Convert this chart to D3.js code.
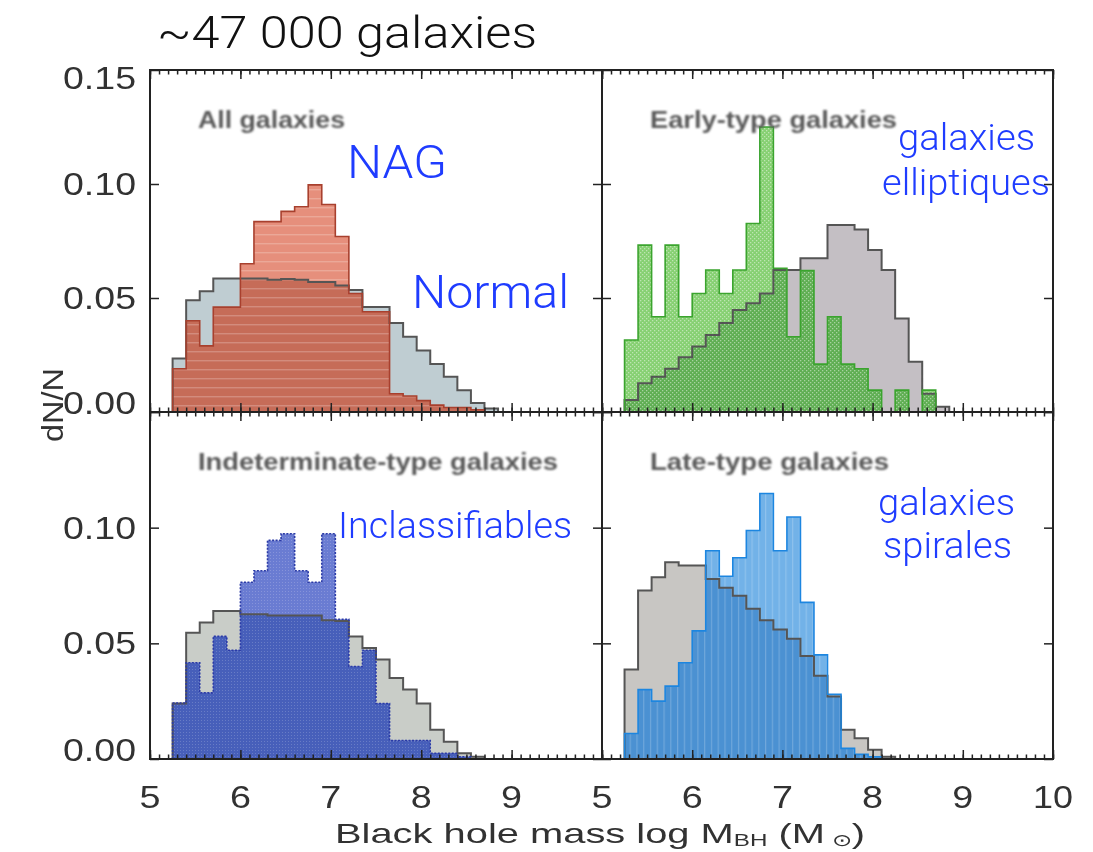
<!DOCTYPE html>
<html>
<head>
<meta charset="utf-8">
<script src="https://cdn.jsdelivr.net/npm/d3@7"></script>
<style>
  body { margin: 0; background: #fff; }
  svg { display: block; }
</style>
</head>
<body>
<svg id="chart" width="1093" height="852"></svg>
<script>
// Histogram binning in log M_BH (solar masses)
const binStart = 5.25;
const binWidth = 0.15;

// dN/N per bin, starting at binStart
const allNormal   = [0.0235, 0.049, 0.053, 0.0586, 0.0586, 0.0586, 0.0586, 0.058, 0.0583, 0.058, 0.057, 0.057, 0.0555, 0.0535, 0.046, 0.046, 0.039, 0.033, 0.027, 0.021, 0.0155, 0.0095, 0.004, 0.0015];
const allAGN      = [0.019, 0.040, 0.029, 0.046, 0.046, 0.065, 0.0835, 0.0835, 0.088, 0.090, 0.0996, 0.091, 0.077, 0.052, 0.044, 0.044, 0.008, 0.007, 0.005, 0.003, 0.002, 0.002, 0.001, 0];
const earlyNormal = [0.0053, 0.0126, 0.0155, 0.019, 0.024, 0.0287, 0.0338, 0.039, 0.0447, 0.0477, 0.052, 0.0623, 0.0623, 0.0674, 0.0674, 0.082, 0.082, 0.080, 0.071, 0.0623, 0.041, 0.022, 0.008, 0.0023];
const earlyAGN    = [0.0316, 0.0732, 0.0418, 0.0732, 0.0418, 0.052, 0.0623, 0.052, 0.0623, 0.0827, 0.125, 0.063, 0.033, 0.062, 0.021, 0.0418, 0.021, 0.019, 0.0096, 0, 0.0096, 0, 0.0096, 0];
const indetNormal = [0.024, 0.0546, 0.059, 0.064, 0.064, 0.0626, 0.0626, 0.062, 0.062, 0.062, 0.062, 0.060, 0.0597, 0.053, 0.048, 0.043, 0.035, 0.030, 0.024, 0.0126, 0.0075, 0.0025, 0.001, 0];
const indetAGN    = [0.0242, 0.0416, 0.0286, 0.053, 0.047, 0.0764, 0.0814, 0.0945, 0.0974, 0.0814, 0.0764, 0.0974, 0.0604, 0.040, 0.047, 0.024, 0.008, 0.008, 0.008, 0.0025, 0.0025, 0.001, 0, 0];
const lateNormal  = [0.0387, 0.0728, 0.0786, 0.085, 0.0836, 0.0836, 0.0778, 0.074, 0.0706, 0.065, 0.060, 0.056, 0.052, 0.0445, 0.036, 0.027, 0.0126, 0.009, 0.004, 0.001, 0, 0, 0, 0];
const lateAGN     = [0.011, 0.030, 0.025, 0.0315, 0.0416, 0.0554, 0.090, 0.079, 0.087, 0.0988, 0.1148, 0.090, 0.1046, 0.0677, 0.045, 0.028, 0.0046, 0.002, 0.001, 0, 0, 0, 0, 0];

// Axis ticks and labels
const xTicksLeft   = [5, 6, 7, 8, 9];
const xTicksRight  = [5, 6, 7, 8, 9, 10];
const yTicksTop    = [0.15, 0.10, 0.05, 0.00];
const yTicksBottom = [0.10, 0.05, 0.00];
const panelTitles  = ["All galaxies", "Early-type galaxies", "Indeterminate-type galaxies", "Late-type galaxies"];

const svg = d3.select("#chart");

// Panel frame edges
const xL = 150, xM = 602, xR = 1053;
const yT = 70, yM = 412, yB = 759;

const defs = svg.append("defs");
defs.append("filter").attr("id", "soft")
  .append("feGaussianBlur").attr("stdDeviation", 0.7);
defs.append("filter").attr("id", "softer")
  .append("feGaussianBlur").attr("stdDeviation", 1.0);

// fill textures
const pStripe = defs.append("pattern").attr("id", "hstripe").attr("patternUnits", "userSpaceOnUse")
  .attr("width", 12).attr("height", 9);
pStripe.append("rect").attr("x", 0).attr("y", 0).attr("width", 12).attr("height", 1.4)
  .attr("fill", "#fff").attr("opacity", 0.22);

const pDots = defs.append("pattern").attr("id", "dots").attr("patternUnits", "userSpaceOnUse")
  .attr("width", 4).attr("height", 4);
pDots.append("rect").attr("x", 0).attr("y", 0).attr("width", 1.3).attr("height", 1.3).attr("fill", "#fff").attr("opacity", 0.45);
pDots.append("rect").attr("x", 2).attr("y", 2).attr("width", 1.3).attr("height", 1.3).attr("fill", "#fff").attr("opacity", 0.45);

const pFine = defs.append("pattern").attr("id", "fine").attr("patternUnits", "userSpaceOnUse")
  .attr("width", 3).attr("height", 3);
pFine.append("rect").attr("x", 0).attr("y", 0).attr("width", 1).attr("height", 1).attr("fill", "#fff").attr("opacity", 0.18);

const pV = defs.append("pattern").attr("id", "vstripe").attr("patternUnits", "userSpaceOnUse")
  .attr("width", 6.77).attr("height", 10);
pV.append("rect").attr("x", 0).attr("y", 0).attr("width", 1.2).attr("height", 10).attr("fill", "#fff").attr("opacity", 0.2);

const panels = [
  { title: panelTitles[0], normal: allNormal, agn: allAGN, x0: xL, x1: xM, y0: yT, y1: yM,
    gray: "#bfcdd2", light: "#e68f7b", dark: "#c66c58", line: "#a8402e", tex: "hstripe", ticks: xTicksLeft, yTicks: yTicksTop },
  { title: panelTitles[1], normal: earlyNormal, agn: earlyAGN, x0: xM, x1: xR, y0: yT, y1: yM,
    gray: "#c4bfc4", light: "#86d072", dark: "#5fae52", line: "#3aa42e", tex: "dots", ticks: [], yTicks: [] },
  { title: panelTitles[2], normal: indetNormal, agn: indetAGN, x0: xL, x1: xM, y0: yM, y1: yB,
    gray: "#c9cdc8", light: "#6b7bd2", dark: "#475fba", line: "#2b3aa6", tex: "fine", ticks: xTicksLeft, yTicks: yTicksBottom },
  { title: panelTitles[3], normal: lateNormal, agn: lateAGN, x0: xM, x1: xR, y0: yM, y1: yB,
    gray: "#c8c6c3", light: "#72b2e8", dark: "#4b91d2", line: "#1f86e0", tex: "vstripe", ticks: xTicksRight, yTicks: [] }
];

const chart = svg.append("g").attr("filter", "url(#soft)");

const stepPts = vals => vals.map((v, i) => [binStart + i * binWidth, v])
  .concat([[binStart + vals.length * binWidth, vals[vals.length - 1]]]);
const outlinePts = vals => [[binStart, 0]].concat(stepPts(vals), [[binStart + vals.length * binWidth, 0]]);

panels.forEach((p, idx) => {
  const x = d3.scaleLinear().domain([5, 10]).range([p.x0, p.x1]);
  const y = d3.scaleLinear().domain([0, 0.15]).range([p.y1, p.y0]);

  const clipId = "clip" + idx;
  defs.append("clipPath").attr("id", clipId)
    .append("rect").attr("x", p.x0).attr("y", p.y0).attr("width", p.x1 - p.x0).attr("height", p.y1 - p.y0);

  const g = chart.append("g").attr("clip-path", `url(#${clipId})`);
  const area = d3.area().curve(d3.curveStepAfter)
    .x(d => x(d[0])).y0(y(0)).y1(d => y(d[1]));
  const line = d3.line().curve(d3.curveStepAfter)
    .x(d => x(d[0])).y(d => y(d[1]));

  const overlap = p.normal.map((v, i) => Math.min(v, p.agn[i]));

  // inactive galaxies
  g.append("path").attr("d", area(stepPts(p.normal))).attr("fill", p.gray);
  // AGN hosts
  g.append("path").attr("d", area(stepPts(p.agn))).attr("fill", p.light);
  g.append("path").attr("d", area(stepPts(p.agn))).attr("fill", `url(#${p.tex})`);
  // shared part of both distributions
  g.append("path").attr("d", area(stepPts(overlap))).attr("fill", p.dark);
  g.append("path").attr("d", area(stepPts(overlap))).attr("fill", `url(#${p.tex})`);
  // outlines
  g.append("path").attr("d", line(outlinePts(p.normal)))
    .attr("fill", "none").attr("stroke", "#555").attr("stroke-width", 2);
  g.append("path").attr("d", line(outlinePts(p.agn)))
    .attr("fill", "none").attr("stroke", p.line).attr("stroke-width", 1.6)
    .attr("stroke-dasharray", idx === 2 ? "2,1.5" : null);

  // frame
  chart.append("rect").attr("x", p.x0).attr("y", p.y0)
    .attr("width", p.x1 - p.x0).attr("height", p.y1 - p.y0)
    .attr("fill", "none").attr("stroke", "#222").attr("stroke-width", 2);

  // tick marks on all four sides
  const minor = d3.range(50, 101).map(d => d / 10);
  const addAxis = (axis, tx, ty) => {
    const a = chart.append("g").attr("transform", `translate(${tx},${ty})`).call(axis);
    a.select(".domain").remove();
    a.selectAll("line").attr("stroke", "#222").attr("stroke-width", 1.5);
    a.selectAll("text").remove();
  };
  addAxis(d3.axisTop(x).tickValues(minor).tickSize(-4.5), 0, p.y0);
  addAxis(d3.axisBottom(x).tickValues(minor).tickSize(-4.5), 0, p.y1);
  addAxis(d3.axisTop(x).tickValues(d3.range(5, 11)).tickSize(-9), 0, p.y0);
  addAxis(d3.axisBottom(x).tickValues(d3.range(5, 11)).tickSize(-9), 0, p.y1);
  addAxis(d3.axisLeft(y).tickValues([0, 0.05, 0.10, 0.15]).tickSize(-9), p.x0, 0);
  addAxis(d3.axisRight(y).tickValues([0, 0.05, 0.10, 0.15]).tickSize(-9), p.x1, 0);

  // y tick labels (left column only)
  if (p.x0 === xL) {
    chart.append("g").selectAll("text").data(p.yTicks).join("text")
      .attr("x", 136)
      .attr("y", d => Math.max(p.y0 + 8, Math.min(p.y1 - 9, y(d))))
      .attr("dy", "0.36em")
      .attr("text-anchor", "end")
      .attr("font-family", "Liberation Sans, Arial, sans-serif")
      .attr("font-size", 31).attr("fill", "#333")
      .attr("textLength", 73).attr("lengthAdjust", "spacingAndGlyphs")
      .text(d => d3.format(".2f")(d));
  }
  // x tick labels (bottom row only)
  if (p.y1 === yB) {
    chart.append("g").selectAll("text").data(p.ticks).join("text")
      .attr("x", d => x(d)).attr("y", 808)
      .attr("text-anchor", "middle")
      .attr("font-family", "Liberation Sans, Arial, sans-serif")
      .attr("font-size", 31).attr("fill", "#333")
      .attr("textLength", d => d >= 10 ? 40 : 21).attr("lengthAdjust", "spacingAndGlyphs")
      .text(d => d);
  }

  // panel title
  chart.append("text")
    .attr("x", p.x0 + 48).attr("y", p.y0 + 58)
    .attr("font-family", "Liberation Sans, Arial, sans-serif")
    .attr("font-weight", "bold").attr("font-size", 23).attr("fill", "#5a5a5a")
    .attr("filter", "url(#softer)")
    .text(p.title);
});

// fit panel title widths
const titleWidths = [147, 247, 360, 239];
chart.selectAll("text").filter(function () { return panelTitles.includes(this.textContent); })
  .each(function () {
    const i = panelTitles.indexOf(this.textContent);
    d3.select(this).attr("textLength", titleWidths[i]).attr("lengthAdjust", "spacingAndGlyphs");
  });

// y axis title
chart.append("text")
  .attr("transform", "translate(63,405) rotate(-90)")
  .attr("text-anchor", "middle")
  .attr("font-family", "Liberation Sans, Arial, sans-serif")
  .attr("font-size", 29).attr("fill", "#333")
  .attr("textLength", 74).attr("lengthAdjust", "spacingAndGlyphs")
  .text("dN/N");

// x axis title
const xt = chart.append("text")
  .attr("x", 600).attr("y", 843)
  .attr("text-anchor", "middle")
  .attr("font-family", "Liberation Sans, Arial, sans-serif")
  .attr("font-size", 28).attr("fill", "#333")
  .attr("textLength", 530).attr("lengthAdjust", "spacingAndGlyphs");
xt.append("tspan").text("Black hole mass log M");
xt.append("tspan").attr("font-size", 17).attr("dy", 3).text("BH");
xt.append("tspan").attr("dy", -3).text(" (M");
xt.append("tspan").attr("font-size", 17).attr("dy", 3).text(" \u2299");
xt.append("tspan").attr("dy", -3).text(")");

// headline
svg.append("text")
  .attr("x", 157).attr("y", 48)
  .attr("font-family", "Roboto, 'Open Sans', sans-serif")
  .attr("font-weight", 300).attr("font-size", 44).attr("fill", "#111")
  .attr("textLength", 380).attr("lengthAdjust", "spacingAndGlyphs")
  .text("~47 000 galaxies");

// blue annotations
const notes = [
  { t: "NAG", x: 347, y: 178, s: 46, w: 100 },
  { t: "Normal", x: 412, y: 308, s: 46, w: 157 },
  { t: "galaxies", x: 898, y: 150, s: 36, w: 137 },
  { t: "elliptiques", x: 882, y: 195, s: 36, w: 168 },
  { t: "Inclassifiables", x: 338, y: 538, s: 36, w: 234 },
  { t: "galaxies", x: 878, y: 515, s: 36, w: 137 },
  { t: "spirales", x: 883, y: 558, s: 36, w: 129 }
];
svg.append("g").selectAll("text").data(notes).join("text")
  .attr("x", d => d.x).attr("y", d => d.y)
  .attr("font-family", "Roboto, 'Open Sans', sans-serif")
  .attr("font-weight", 300)
  .attr("font-size", d => d.s).attr("fill", "#1f3cff")
  .attr("textLength", d => d.w).attr("lengthAdjust", "spacingAndGlyphs")
  .text(d => d.t);
</script>
</body>
</html>
